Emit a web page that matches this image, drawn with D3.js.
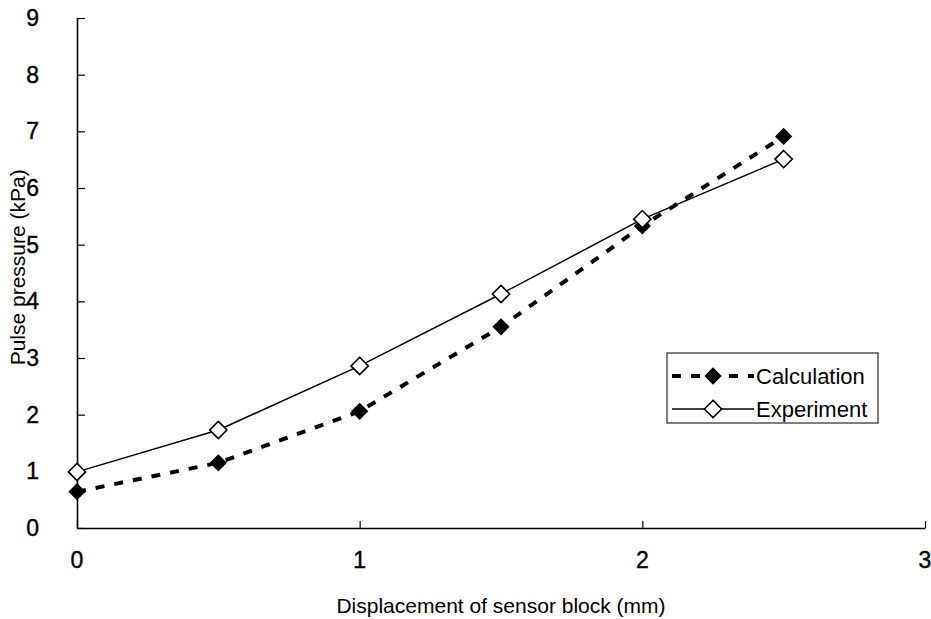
<!DOCTYPE html>
<html>
<head>
<meta charset="utf-8">
<script src="https://cdn.jsdelivr.net/npm/d3@7/dist/d3.min.js"></script>
<style>
  body { margin: 0; background: #fff; }
  svg { display: block; font-family: "Liberation Sans", Arial, sans-serif; }
</style>
</head>
<body>
<div id="chart"></div>
<script>
// displacement of sensor block (mm)
const displacement = [0, 0.5, 1, 1.5, 2, 2.5];
// pulse pressure (kPa)
const calculation = [0.64, 1.15, 2.06, 3.55, 5.33, 6.91];
const experiment = [0.99, 1.73, 2.86, 4.13, 5.45, 6.51];
const xTicks = [0, 1, 2, 3];
const yTicks = [0, 1, 2, 3, 4, 5, 6, 7, 8, 9];
const seriesNames = ['Calculation', 'Experiment'];

const width = 931, height = 619;
const margin = { top: 18, right: 6, bottom: 91, left: 77 };

const svg = d3.select('#chart')
  .append('svg')
  .attr('width', width)
  .attr('height', height);

const x = d3.scaleLinear().domain([0, 3]).range([margin.left, width - margin.right]);
const y = d3.scaleLinear().domain([0, 9]).range([height - margin.bottom, margin.top]);

// axes, ticks pointing into the plot
const xAxis = svg.append('g')
  .attr('transform', `translate(0,${y(0)})`)
  .call(d3.axisTop(x).tickValues(xTicks).tickSize(7).tickSizeOuter(0).tickFormat(''));
const yAxis = svg.append('g')
  .attr('transform', `translate(${x(0)},0)`)
  .call(d3.axisRight(y).tickValues(yTicks).tickSize(8).tickSizeOuter(0).tickFormat(''));
[xAxis, yAxis].forEach(g => {
  g.select('.domain').attr('stroke', '#000').attr('stroke-width', 1.6);
  g.selectAll('.tick line').attr('stroke', '#000').attr('stroke-width', 1.2);
});

svg.selectAll('.xlab')
  .data(xTicks)
  .enter()
  .append('text')
  .attr('x', d => x(d))
  .attr('y', y(0) + 40)
  .attr('text-anchor', 'middle')
  .style('font-size', '23px')
  .style('stroke', '#000')
  .style('stroke-width', 0.4)
  .text(d => d);

svg.selectAll('.ylab')
  .data(yTicks)
  .enter()
  .append('text')
  .attr('x', 39)
  .attr('y', d => y(d) + 8)
  .attr('text-anchor', 'end')
  .style('font-size', '23px')
  .style('stroke', '#000')
  .style('stroke-width', 0.4)
  .text(d => d);

svg.append('text')
  .attr('x', (x(0) + x(3)) / 2)
  .attr('y', 613)
  .attr('text-anchor', 'middle')
  .style('font-size', '21px')
  .text('Displacement of sensor block (mm)');

svg.append('text')
  .attr('transform', `translate(25,${y(4.6)}) rotate(-90)`)
  .attr('text-anchor', 'middle')
  .style('font-size', '21px')
  .text('Pulse pressure (kPa)');

const line = d3.line()
  .x(d => x(d[0]))
  .y(d => y(d[1]));

const calcPts = displacement.map((d, i) => [d, calculation[i]]);
const expPts = displacement.map((d, i) => [d, experiment[i]]);

svg.append('path')
  .datum(expPts)
  .attr('fill', 'none')
  .attr('stroke', '#000')
  .attr('stroke-width', 1.5)
  .attr('d', line);

svg.append('path')
  .datum(calcPts)
  .attr('fill', 'none')
  .attr('stroke', '#000')
  .attr('stroke-width', 4)
  .attr('stroke-dasharray', '9,10')
  .attr('d', line);

const diamond = d3.symbol().type(d3.symbolDiamond2).size(190);

svg.selectAll('.calc')
  .data(calcPts)
  .enter()
  .append('path')
  .attr('transform', d => `translate(${x(d[0])},${y(d[1])})`)
  .attr('d', diamond)
  .attr('fill', '#000');

svg.selectAll('.exp')
  .data(expPts)
  .enter()
  .append('path')
  .attr('transform', d => `translate(${x(d[0])},${y(d[1])})`)
  .attr('d', diamond)
  .attr('fill', '#fff')
  .attr('stroke', '#000')
  .attr('stroke-width', 1.6);

// legend
const legend = svg.append('g').attr('transform', 'translate(667,353)');
legend.append('rect')
  .attr('width', 211)
  .attr('height', 70)
  .attr('fill', '#fff')
  .attr('stroke', '#000')
  .attr('stroke-width', 1);

const rows = legend.selectAll('.row')
  .data(seriesNames)
  .enter()
  .append('g')
  .attr('transform', (d, i) => `translate(0,${23 + i * 33})`);

rows.append('line')
  .attr('x1', 5).attr('x2', 87)
  .attr('stroke', '#000')
  .attr('stroke-width', (d, i) => i === 0 ? 4 : 1.5)
  .attr('stroke-dasharray', (d, i) => i === 0 ? '9,10' : null);

rows.append('path')
  .attr('transform', 'translate(46,0)')
  .attr('d', diamond)
  .attr('fill', (d, i) => i === 0 ? '#000' : '#fff')
  .attr('stroke', '#000')
  .attr('stroke-width', (d, i) => i === 0 ? 0 : 1.6);

rows.append('text')
  .attr('x', 89)
  .attr('y', 8)
  .style('font-size', '22px')
  .text(d => d);
</script>
</body>
</html>
